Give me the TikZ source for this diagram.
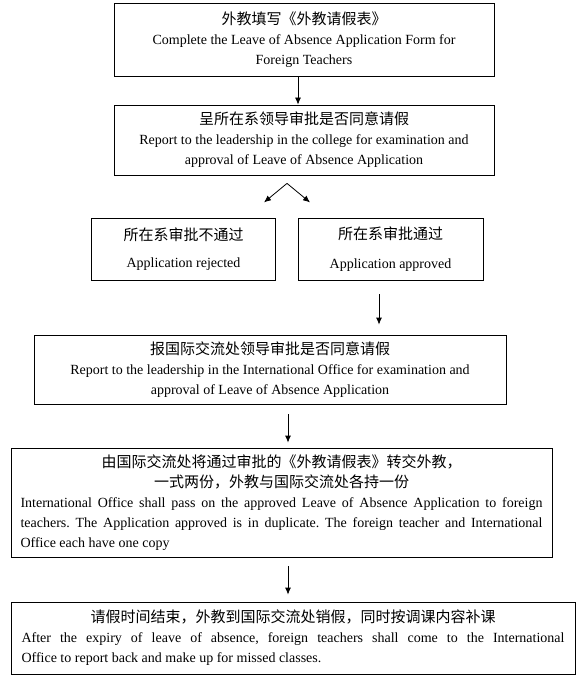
\documentclass[tikz,border=0pt]{standalone}
\usepackage{fontspec}
\setmainfont{Liberation Serif}
\newfontfamily\cjk{Noto Sans CJK SC}
\usepackage{tikz}
\usetikzlibrary{arrows.meta}
\setlength{\parindent}{0pt}
\frenchspacing
\newcommand{\zh}[1]{{\cjk\fontsize{15}{20}\selectfont #1}}

\begin{document}
\begin{tikzpicture}[x=1pt, y=-1pt,
		box/.style = {draw, line width=0.8pt, inner sep=0pt, align=center, font=\fontsize{14}{20}\selectfont},
		link/.style = {-{Latex[length=7pt,width=6pt]}, line width=0.8pt}]
			\useasboundingbox (0,0) rectangle (587,687);

			\begin{scope}
				\node [box, minimum width=380pt, minimum height=73pt] (form) at (304,39.5)
					{\zh{外教填写《外教请假表》}\\ Complete the Leave of Absence Application Form for\\ Foreign Teachers};
				\node [box, minimum width=380pt, minimum height=70pt] (dept) at (304,140)
					{\zh{呈所在系领导审批是否同意请假}\\ Report to the leadership in the college for examination and\\ approval of Leave of Absence Application};
				\node [box, minimum width=184pt, minimum height=62pt] (rejected) at (183.5,249)
					{\zh{所在系审批不通过}\\[7pt] Application rejected};
				\node [box, minimum width=185pt, minimum height=62pt] (approved) at (390.5,249)
					{\zh{所在系审批通过}\\[9pt] Application approved};
				\node [box, minimum width=472pt, minimum height=69pt] (office) at (270,369.5)
					{\zh{报国际交流处领导审批是否同意请假}\\ Report to the leadership in the International Office for examination and\\ approval of Leave of Absence Application};
			\end{scope}

			\begin{scope}[box/.append style = {align=justify}]
				\node [box, text width=522pt, inner xsep=9.5pt, minimum height=109pt] (pass) at (281.5,502.5)
					{{\centering\zh{由国际交流处将通过审批的《外教请假表》转交外教，}\\ \zh{一式两份，外教与国际交流处各持一份}\par}
					International Office shall pass on the approved Leave of Absence Application to foreign\linebreak
					teachers. The Application approved is in duplicate. The foreign teacher and International\linebreak
					Office each have one copy};
				\node [box, text width=543pt, inner xsep=10.5pt, minimum height=72pt] (report) at (293,638)
					{{\centering\zh{请假时间结束，外教到国际交流处销假，同时按调课内容补课}\par}
					After the expiry of leave of absence, foreign teachers shall come to the International\linebreak
					Office to report back and make up for missed classes.};
			\end{scope}

			\coordinate (fork) at ([xshift=-17pt, yshift=-8pt]dept.south);
			\coordinate (forkL) at ([xshift=-23pt, yshift=-19pt]fork);
			\coordinate (forkR) at ([xshift=23pt, yshift=-19pt]fork);

			\begin{scope}[link]
				\draw ([xshift=-6pt]form.south) -- ([xshift=-6pt]dept.north);
				\draw (fork) -- (forkL);
				\draw (fork) -- (forkR);
				\draw [shorten <=14pt, shorten >=10pt] ([xshift=-11.5pt]approved.south) -- ([xshift=-11.5pt]approved.south |- office.north);
				\draw [shorten <=10pt, shorten >=5pt] ([xshift=18pt]office.south) -- ([xshift=18pt]office.south |- pass.north);
				\draw [shorten <=9pt, shorten >=7pt] ([xshift=6.5pt]pass.south) -- ([xshift=6.5pt]pass.south |- report.north);
			\end{scope}
		\end{tikzpicture}
\end{document}
